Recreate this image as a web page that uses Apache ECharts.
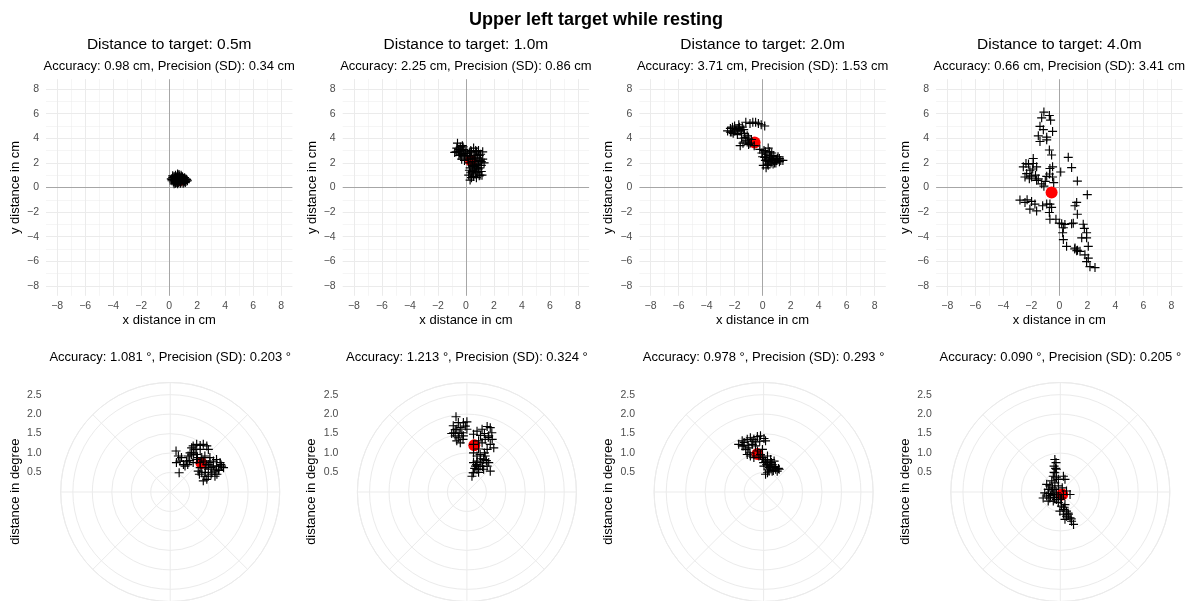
<!DOCTYPE html>
<html><head><meta charset="utf-8">
<script src="https://cdn.jsdelivr.net/npm/echarts@6/dist/echarts.min.js"></script>
<style>html,body{margin:0;padding:0;background:#fff}#c{width:1192px;height:601px}</style>
</head><body><div id="c"></div>
<script>
// ---------- data ----------
const mainTitle = 'Upper left target while resting';
const distances = ['0.5m', '1.0m', '2.0m', '4.0m'];
const accuracyCm = [0.98, 2.25, 3.71, 0.66];
const precisionCm = [0.34, 0.86, 1.53, 3.41];
const accuracyDeg = [1.081, 1.213, 0.978, 0.090];
const precisionDeg = [0.203, 0.324, 0.293, 0.205];
const cmTicks = [-8, -6, -4, -2, 0, 2, 4, 6, 8];
const cmMinor = [-7, -5, -3, -1, 1, 3, 5, 7];
const degTicks = [0.5, 1.0, 1.5, 2.0, 2.5];

// gaze offsets in cm (x, y)
const cm05 = [[0.15,0.7],[0.2,0.55],[0.25,0.8],[0.3,0.45],[0.3,0.65],[0.35,0.9],[0.4,0.55],[0.4,0.75],[0.45,0.35],[0.45,1.0],[0.5,0.6],[0.5,0.85],[0.55,0.45],[0.55,0.7],[0.6,0.95],[0.6,0.3],[0.65,0.6],[0.65,0.8],[0.7,0.45],[0.7,1.05],[0.75,0.7],[0.75,0.9],[0.8,0.35],[0.8,0.55],[0.85,0.8],[0.85,1.0],[0.9,0.45],[0.9,0.65],[0.95,0.85],[1.0,0.55],[1.0,0.35],[1.05,0.7],[1.1,0.5],[1.1,0.8],[1.15,0.6],[1.2,0.5],[1.25,0.65],[0.35,0.6],[0.6,0.5],[0.7,0.7],[0.85,0.6],[0.95,0.6],[0.55,0.85],[0.75,0.5],[0.45,0.8],[0.25,0.95],[0.35,0.3],[0.5,0.4],[0.65,0.4],[0.8,0.75],[0.9,0.9],[1.0,0.75],[1.05,0.45],[1.2,0.7],[1.3,0.55],[0.2,0.65],[0.6,1.1],[0.4,0.45],[0.7,0.95],[1.15,0.4]];
const cm10 = [[-0.7,2.9],[-0.6,3.6],[-0.5,3.1],[-0.45,2.8],[-0.4,3.3],[-0.35,2.6],[-0.3,3.0],[-0.25,3.4],[-0.2,2.7],[-0.15,3.1],[-0.1,2.5],[-0.5,2.6],[-0.8,2.85],[-0.3,2.3],[-0.1,2.2],[0.0,2.9],[0.1,2.6],[0.2,2.0],[0.25,2.8],[0.3,1.6],[0.3,2.4],[0.35,1.2],[0.4,2.9],[0.45,1.8],[0.5,2.3],[0.5,1.4],[0.55,0.9],[0.6,2.6],[0.6,1.7],[0.65,2.1],[0.7,1.2],[0.75,2.9],[0.8,1.9],[0.85,2.4],[0.9,1.5],[0.9,3.0],[1.0,2.2],[1.0,1.0],[1.05,2.7],[1.1,1.8],[1.15,1.0],[1.2,2.3],[1.2,2.9],[0.95,0.95],[0.3,0.6],[0.2,1.0],[0.4,0.8],[1.3,2.0],[0.7,3.0],[0.55,3.2],[-0.65,3.2],[-0.55,2.95],[-0.4,2.7],[-0.2,3.3],[-0.05,2.75],[0.15,2.3],[0.35,2.55],[0.45,2.1],[0.65,1.5],[0.75,1.6],[0.85,1.2],[0.7,2.4],[0.95,2.6],[1.1,2.1],[0.55,1.1],[0.45,1.3],[0.8,2.7],[1.0,1.6],[0.25,1.4],[0.6,1.9],[0.35,3.0],[0.9,1.8],[1.1,1.3],[0.75,0.8]];
const cm20 = [[-2.5,4.6],[-2.3,4.8],[-2.2,4.5],[-2.0,5.0],[-1.9,4.7],[-1.8,4.3],[-1.7,5.1],[-1.6,4.6],[-1.5,4.0],[-1.45,4.9],[-1.4,3.6],[-1.3,4.4],[-1.2,5.3],[-1.2,3.8],[-1.1,4.2],[-1.0,3.5],[-0.9,5.2],[-0.8,3.9],[-0.7,5.3],[-0.5,5.3],[-0.3,5.2],[-0.1,5.1],[0.15,5.0],[-2.1,4.4],[-1.6,3.4],[-0.6,3.4],[-0.2,3.1],[0.0,2.5],[0.1,3.0],[0.2,2.2],[0.3,2.7],[0.35,1.9],[0.4,3.2],[0.5,2.4],[0.6,2.0],[0.65,2.8],[0.7,2.3],[0.8,2.6],[0.85,2.0],[0.9,2.3],[1.0,2.2],[1.1,2.5],[1.2,2.1],[1.3,2.2],[1.45,2.2],[0.25,1.6],[0.5,2.9],[0.05,1.8],[0.75,1.9],[-2.3,4.5],[-2.0,4.6],[-1.75,4.8],[-1.5,4.4],[-1.35,4.7],[-1.25,4.05],[-1.1,3.7],[-1.0,4.0],[-0.9,3.6],[-1.65,4.9],[-2.15,4.9],[0.2,2.9],[0.3,2.3],[0.45,2.1],[0.55,2.6],[0.8,2.2],[0.95,2.0],[1.05,2.35],[0.15,2.45],[0.65,2.5],[-0.05,2.8],[0.4,1.8],[1.2,2.35]];
const cm40 = [[-1.1,6.13],[-1.26,5.66],[-0.71,5.85],[-0.62,5.47],[-1.38,4.97],[-1.14,4.7],[-0.48,4.56],[-0.9,4.09],[-1.5,4.2],[-1.38,3.74],[-0.9,3.87],[-0.71,3.05],[-0.55,2.64],[-1.86,2.36],[-2.38,1.95],[-2.57,1.68],[-1.86,1.95],[-1.62,1.68],[-2.1,1.4],[-2.45,0.85],[-1.98,0.85],[-2.33,1.13],[-2.14,0.71],[-1.62,0.58],[-1.26,0.3],[-1.1,0.11],[-0.67,1.54],[-0.48,1.68],[-0.9,0.91],[-0.48,0.85],[0.1,1.26],[0.64,2.45],[0.88,1.62],[1.29,0.52],[2.0,-0.58],[-2.81,-1.02],[-2.45,-1.21],[-1.98,-1.13],[-1.74,-1.35],[-2.1,-1.76],[-1.62,-1.9],[-1.19,-1.48],[-0.9,-1.35],[-0.67,-1.35],[-0.55,-1.62],[-0.71,-2.03],[-0.67,-2.58],[-0.24,-2.58],[0.17,-2.94],[0.29,-3.27],[0.24,-3.68],[0.29,-4.23],[0.52,-4.78],[0.88,-2.94],[1.12,-1.48],[1.24,-1.21],[1.29,-2.17],[1.71,-2.99],[1.79,-3.32],[1.95,-3.68],[1.95,-4.09],[1.6,-4.09],[1.12,-4.92],[1.24,-5.14],[1.48,-5.19],[2.07,-4.78],[1.83,-5.47],[2.07,-5.74],[1.95,-6.02],[2.19,-6.43],[2.55,-6.51],[-1.5,0.7],[-2.0,0.95],[-1.9,1.5],[-1.0,0.5],[-0.4,0.4],[-0.7,1.1],[-2.3,-1.0],[0.0,-2.9],[0.4,-3.0],[1.0,-2.9],[1.1,-5.0],[1.3,-5.1],[-1.7,1.0],[-2.2,1.9]];
const meanCm = [[0.78,0.6],[0.36,2.2],[-0.57,3.65],[-0.55,-0.4]];

// gaze offsets in degrees (horizontal, vertical)
const deg05 = [[0.15,1.05],[0.21,0.92],[0.25,0.79],[0.16,0.75],[0.29,0.88],[0.34,0.7],[0.42,0.79],[0.23,0.49],[0.38,0.66],[0.46,0.92],[0.51,1.0],[0.59,1.18],[0.68,1.22],[0.77,1.19],[0.85,1.22],[0.94,1.18],[0.98,1.09],[0.64,1.09],[0.55,1.13],[0.77,1.09],[0.68,0.83],[0.77,0.75],[0.85,0.79],[0.94,0.7],[1.02,0.75],[1.11,0.79],[1.19,0.83],[1.28,0.75],[1.32,0.66],[1.37,0.62],[1.24,0.58],[1.15,0.53],[1.07,0.49],[0.98,0.58],[0.89,0.4],[0.85,0.28],[0.94,0.32],[0.77,0.62],[0.72,0.53],[0.81,0.49],[1.11,0.66],[1.19,0.66],[1.02,0.88],[0.89,0.92],[0.81,0.88],[0.59,0.75],[0.68,0.96],[1.15,0.4],[0.98,0.4],[0.55,0.95],[0.7,0.88],[0.9,0.62],[1.05,0.62],[1.25,0.55],[0.98,0.7],[1.3,0.7],[0.75,0.45],[1.05,0.45],[0.9,0.5],[0.6,1.0],[0.5,0.8],[0.45,0.7],[1.2,0.45]];
const deg10 = [[-0.28,1.93],[-0.22,1.78],[-0.09,1.78],[0.0,1.8],[-0.34,1.52],[-0.26,1.61],[-0.17,1.65],[-0.13,1.52],[-0.04,1.69],[-0.3,1.44],[-0.22,1.39],[-0.09,1.44],[-0.17,1.26],[-0.26,1.31],[-0.39,1.5],[0.0,1.61],[0.17,1.48],[0.26,1.56],[0.39,1.61],[0.52,1.68],[0.6,1.65],[0.64,1.52],[0.56,1.44],[0.47,1.35],[0.6,1.22],[0.69,1.13],[0.52,1.09],[0.39,1.26],[0.17,1.22],[0.3,1.31],[0.17,1.0],[0.26,0.92],[0.34,0.96],[0.43,0.83],[0.39,0.75],[0.26,0.79],[0.17,0.75],[0.22,0.66],[0.3,0.58],[0.34,0.66],[0.17,0.49],[0.26,0.58],[0.16,0.49],[0.13,0.4],[0.43,0.58],[0.52,0.66],[0.6,0.53],[0.56,0.75],[0.47,0.92],[-0.3,1.6],[-0.2,1.5],[-0.1,1.35],[-0.35,1.7],[0.3,1.1],[0.35,0.85],[0.45,1.0],[0.25,0.7],[0.4,0.65],[0.5,0.8],[0.3,0.5],[0.2,0.6],[0.55,1.4],[0.45,1.5],[0.65,1.35],[0.35,1.45]];
const deg20 = [[-0.64,1.22],[-0.55,1.31],[-0.51,1.18],[-0.42,1.35],[-0.34,1.39],[-0.25,1.35],[-0.16,1.42],[-0.08,1.44],[0.01,1.37],[0.05,1.31],[-0.46,1.09],[-0.38,1.13],[-0.29,1.22],[-0.21,1.18],[-0.42,0.96],[-0.34,0.92],[-0.25,0.88],[-0.16,1.05],[-0.08,0.96],[-0.12,0.92],[-0.03,0.88],[0.01,0.83],[0.05,0.79],[0.1,0.75],[0.14,0.7],[0.18,0.66],[0.22,0.7],[0.27,0.62],[0.31,0.58],[0.35,0.53],[0.4,0.58],[0.22,0.53],[0.14,0.53],[0.1,0.49],[0.05,0.45],[0.27,0.79],[0.18,0.83],[0.01,0.66],[0.1,0.92],[-0.03,1.09],[-0.5,1.27],[-0.4,1.2],[-0.3,1.3],[-0.2,1.28],[-0.1,1.3],[-0.35,1.0],[0.0,0.75],[0.08,0.7],[0.15,0.62],[0.25,0.55],[0.3,0.65],[0.2,0.75],[-0.55,1.18],[0.12,0.58],[0.38,0.6]];
const deg40 = [[-0.14,0.83],[-0.11,0.75],[-0.16,0.66],[-0.1,0.58],[-0.14,0.49],[-0.18,0.4],[-0.1,0.36],[-0.22,0.28],[-0.14,0.23],[-0.05,0.32],[0.08,0.4],[0.12,0.32],[-0.35,0.19],[-0.27,0.15],[-0.31,0.06],[-0.4,-0.03],[-0.35,-0.11],[-0.27,-0.16],[-0.18,-0.07],[-0.14,0.06],[-0.1,-0.03],[-0.05,-0.11],[-0.31,-0.24],[-0.18,-0.24],[-0.1,-0.2],[0.03,-0.16],[0.08,-0.07],[0.16,0.02],[0.25,-0.07],[-0.22,0.02],[-0.44,-0.16],[-0.05,-0.28],[0.03,-0.37],[0.08,-0.46],[0.12,-0.33],[0.16,-0.5],[0.21,-0.58],[0.25,-0.67],[0.29,-0.76],[0.34,-0.84],[0.16,-0.63],[0.08,-0.58],[0.12,-0.71],[-0.01,-0.5],[-0.2,0.1],[-0.3,-0.05],[-0.15,-0.15],[-0.05,0.15],[0.0,-0.2],[0.05,0.1],[-0.25,-0.1],[0.2,-0.55],[0.1,-0.4],[0.28,-0.7],[-0.12,0.6],[-0.16,0.5]];
const meanDeg = [[0.8,0.74],[0.19,1.2],[-0.16,0.97],[0.05,-0.07]];

const cmSets = [cm05, cm10, cm20, cm40];
const degSets = [deg05, deg10, deg20, deg40];

// ---------- layout ----------
const FONT = '"Liberation Sans", Arial, Helvetica, sans-serif';
const topCx = [169.2, 465.9, 762.6, 1059.3];
const botCx = [170.2, 466.9, 763.6, 1060.3];
const TOP_HALF_W = 123.2, TOP_Y = 79.2, TOP_H = 216.6;
const POLAR_CY = 492, POLAR_R = 109.5;
const CM_LIM = 8.8, DEG_LIM = 2.8125;
const plusSymbol = 'path://M0,5L10,5M5,0L5,10';
const minusFmt = v => (v < 0 ? '\u2212' + Math.abs(v) : String(v));

const grid = [], xAxis = [], yAxis = [], polar = [], angleAxis = [], radiusAxis = [], series = [];
const title = [{
  text: mainTitle, left: 596, top: 11.5, textAlign: 'center', padding: 0,
  textStyle: {fontFamily: FONT, fontSize: 18, fontWeight: 'bold', color: '#000'}
}];

function gridLines() {
  const d = [];
  cmMinor.forEach(v => {
    d.push({xAxis: v, lineStyle: {color: '#ebebeb', width: 0.5, type: 'solid'}});
    d.push({yAxis: v, lineStyle: {color: '#ebebeb', width: 0.5, type: 'solid'}});
  });
  cmTicks.forEach(v => {
    if (v === 0) return;
    d.push({xAxis: v, lineStyle: {color: '#ebebeb', width: 1, type: 'solid'}});
    d.push({yAxis: v, lineStyle: {color: '#ebebeb', width: 1, type: 'solid'}});
  });
  d.push({xAxis: 0, lineStyle: {color: '#a6a6a6', width: 1, type: 'solid'}});
  d.push({yAxis: 0, lineStyle: {color: '#a6a6a6', width: 1, type: 'solid'}});
  return d;
}

const plusStyle = {color: 'rgba(0,0,0,0)', borderColor: '#000', borderWidth: 1.15, opacity: 1};

for (let i = 0; i < 4; i++) {
  // ---- top row: cartesian cm ----
  grid.push({left: topCx[i] - TOP_HALF_W, top: TOP_Y, width: TOP_HALF_W * 2, height: TOP_H});
  xAxis.push({
    gridIndex: i, type: 'value', min: -CM_LIM, max: CM_LIM,
    axisLine: {show: false}, axisTick: {show: false}, splitLine: {show: false},
    axisLabel: {customValues: cmTicks, formatter: minusFmt, color: '#4d4d4d', fontSize: 10.5, fontFamily: FONT, margin: 5},
    name: 'x distance in cm', nameLocation: 'middle', nameGap: 18,
    nameTextStyle: {color: '#000', fontSize: 13, fontFamily: FONT}
  });
  yAxis.push({
    gridIndex: i, type: 'value', min: -CM_LIM, max: CM_LIM,
    axisLine: {show: false}, axisTick: {show: false}, splitLine: {show: false},
    axisLabel: {customValues: cmTicks, formatter: minusFmt, color: '#4d4d4d', fontSize: 10.5, fontFamily: FONT, margin: 7},
    name: 'y distance in cm', nameLocation: 'middle', nameGap: 24,
    nameTextStyle: {color: '#000', fontSize: 13, fontFamily: FONT}
  });
  series.push({
    type: 'scatter', xAxisIndex: i, yAxisIndex: i, data: [], silent: true, z: 1,
    markLine: {silent: true, symbol: ['none', 'none'], label: {show: false}, animation: false,
      emphasis: {disabled: true}, data: gridLines()}
  });
  series.push({
    type: 'scatter', xAxisIndex: i, yAxisIndex: i, data: [meanCm[i]], z: 9, silent: true,
    symbol: 'circle', symbolSize: 12, itemStyle: {color: '#ff0000', opacity: 1}
  });
  series.push({
    type: 'scatter', xAxisIndex: i, yAxisIndex: i, data: cmSets[i], z: 10, silent: true,
    symbol: plusSymbol, symbolSize: 9, itemStyle: plusStyle
  });
  title.push({
    text: 'Distance to target: ' + distances[i], left: topCx[i], top: 36.3, textAlign: 'center', padding: 0,
    textStyle: {fontFamily: FONT, fontSize: 15.5, fontWeight: 'normal', color: '#000'}
  });
  title.push({
    text: 'Accuracy: ' + accuracyCm[i].toFixed(2) + ' cm, Precision (SD): ' + precisionCm[i].toFixed(2) + ' cm',
    left: topCx[i], top: 59.5, textAlign: 'center', padding: 0,
    textStyle: {fontFamily: FONT, fontSize: 13, fontWeight: 'normal', color: '#000'}
  });
}

for (let i = 0; i < 4; i++) {
  // ---- bottom row: polar grid + cartesian overlay in degrees ----
  const g = 4 + i;
  polar.push({center: [botCx[i], POLAR_CY], radius: POLAR_R});
  angleAxis.push({
    polarIndex: i, type: 'value', min: 0, max: 360, interval: 45, startAngle: 90,
    axisLine: {show: true, lineStyle: {color: '#ebebeb', width: 1}},
    axisTick: {show: false}, axisLabel: {show: false},
    splitLine: {show: true, lineStyle: {color: '#ebebeb', width: 1}}
  });
  radiusAxis.push({
    polarIndex: i, type: 'value', min: 0, max: DEG_LIM, interval: 0.5,
    axisLine: {show: false}, axisTick: {show: false}, axisLabel: {show: false},
    splitLine: {show: true, lineStyle: {color: '#ebebeb', width: 1}}
  });
  grid.push({left: botCx[i] - POLAR_R, top: POLAR_CY - POLAR_R, width: POLAR_R * 2, height: POLAR_R * 2});
  xAxis.push({gridIndex: g, type: 'value', min: -DEG_LIM, max: DEG_LIM, show: false});
  yAxis.push({
    gridIndex: g, type: 'value', min: -DEG_LIM, max: DEG_LIM,
    axisLine: {show: false}, axisTick: {show: false}, splitLine: {show: false},
    axisLabel: {customValues: degTicks, formatter: v => v.toFixed(1), color: '#4d4d4d', fontSize: 10.5, fontFamily: FONT, margin: 19},
    name: 'distance in degree', nameLocation: 'middle', nameGap: 39,
    nameTextStyle: {color: '#000', fontSize: 13, fontFamily: FONT}
  });
  series.push({
    type: 'scatter', xAxisIndex: g, yAxisIndex: g, data: [meanDeg[i]], z: 9, silent: true,
    symbol: 'circle', symbolSize: 12, itemStyle: {color: '#ff0000', opacity: 1}
  });
  series.push({
    type: 'scatter', xAxisIndex: g, yAxisIndex: g, data: degSets[i], z: 10, silent: true,
    symbol: plusSymbol, symbolSize: 9, itemStyle: plusStyle
  });
  title.push({
    text: 'Accuracy: ' + accuracyDeg[i].toFixed(3) + ' \u00b0, Precision (SD): ' + precisionDeg[i].toFixed(3) + ' \u00b0',
    left: botCx[i], top: 350.5, textAlign: 'center', padding: 0,
    textStyle: {fontFamily: FONT, fontSize: 13, fontWeight: 'normal', color: '#000'}
  });
}

const chart = echarts.init(document.getElementById('c'), null, {renderer: 'canvas'});
chart.setOption({
  backgroundColor: '#fff', animation: false,
  title, grid, xAxis, yAxis, polar, angleAxis, radiusAxis, series
});
</script></body></html>
